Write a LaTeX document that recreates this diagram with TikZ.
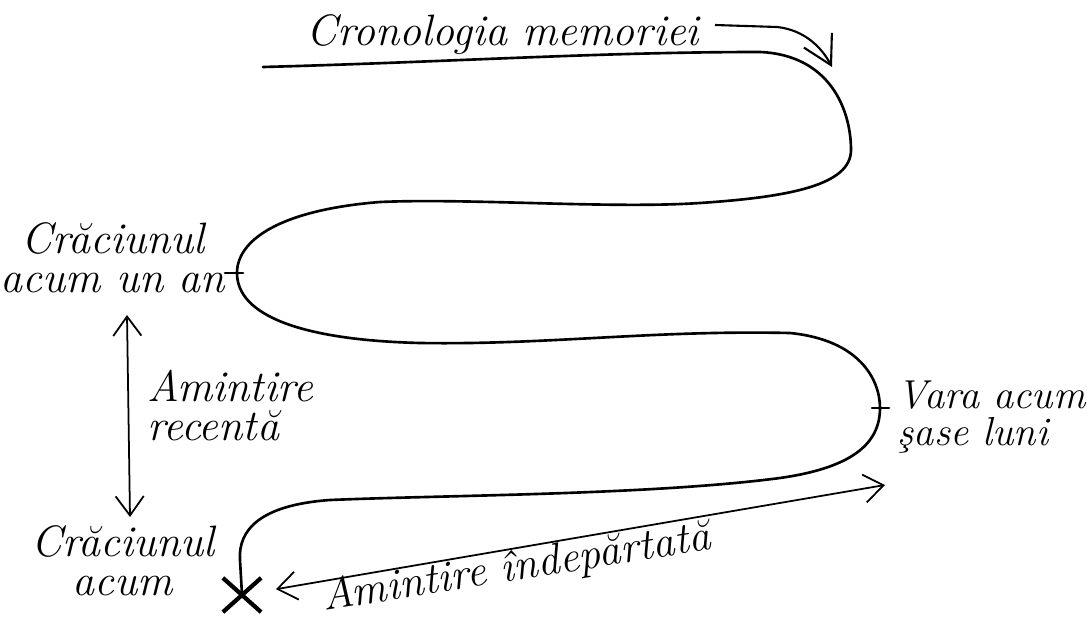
\documentclass[tikz,border=0pt]{standalone}
\usepackage{fontspec}
\usetikzlibrary{arrows.meta,shapes.misc}

\begin{document}
\begin{tikzpicture}[x=0.01cm,y=-0.01cm,
  lbl/.style={font=\itshape\fontsize{12.5}{11}\selectfont,inner sep=0pt},
  barbs/.style={line width=0.5pt,{Straight Barb[length=5.5pt,width=8pt]}-{Straight Barb[length=5.5pt,width=8pt]}},
  memline/.style={line width=0.75pt,line cap=round,line join=round}]
  \useasboundingbox (0,0) rectangle (1087,618);
  % labels
  \node[lbl,anchor=base] (title) at (503,45) {Cronologia memoriei};
  \node[lbl,anchor=base,align=center] (yearago) at (113,292) {Crăciunul\\acum un an};
  \node[lbl,anchor=base west,align=left] (recent) at (147,440) {Amintire\\recentă};
  \node[lbl,anchor=base,align=center] (nowlbl) at (123,595) {Crăciunul\\acum};
  \node[lbl,anchor=base west,align=left,font=\itshape\fontsize{11.5}{10.5}\selectfont] (summer) at (897,445) {Vara acum\\şase luni};
  \node[lbl,anchor=base,rotate=9] (distant) at (518,580) {Amintire îndepărtată};
  % turning points and present moment
  \coordinate (yearturn) at (237,273);
  \coordinate (summerturn) at (880,408);
  \node[cross out,draw,line width=1.2pt,minimum width=0.34cm,minimum height=0.3cm,inner sep=0pt] (now) at (242,595) {};
  % the time line
  \draw[memline] (263,67) .. controls (450,62) and (600,52) .. (760,52)
    .. controls (830,55) and (851,110) .. (851,150)
    .. controls (851,185) and (790,197) .. (700,203)
    .. controls (610,209) and (470,198) .. (380,202)
    .. controls (280,210) and (237,240) .. (yearturn)
    .. controls (237,315) and (300,340) .. (420,343)
    .. controls (550,345) and (650,330) .. (790,333)
    .. controls (860,340) and (880,380) .. (summerturn)
    .. controls (880,445) and (850,468) .. (780,478)
    .. controls (650,495) and (450,495) .. (330,500)
    .. controls (260,505) and (238,530) .. (240,560)
    -- (now.center);
  \draw[memline] ([xshift=-0.12cm]yearturn) -- ([xshift=0.06cm]yearturn);
  \draw[memline] ([xshift=-0.08cm]summerturn) -- ([xshift=0.09cm]summerturn);
  % arrows
  \coordinate (titletail) at (715,25);
  \coordinate (titletip) at (832,67);
  \draw[line width=0.6pt,-{Straight Barb[length=8pt,width=9pt]}] (titletail) -- (777,27)
    .. controls (805,30) and (822,48) .. (titletip);
  \coordinate (recenttop) at (127,315);
  \coordinate (recentbot) at (130,517);
  \draw[barbs] (recenttop) -- (recentbot);
  \coordinate (distantend) at (885,485);
  \draw[barbs,shorten <=0.15cm] (now) -- (distantend);
\end{tikzpicture}
\end{document}
